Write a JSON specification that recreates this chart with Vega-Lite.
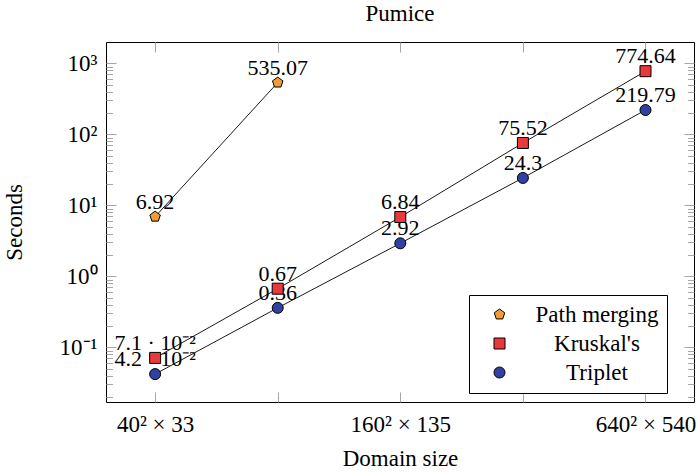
{
  "$schema": "https://vega.github.io/schema/vega-lite/v6.json",
  "width": 588,
  "height": 360,
  "autosize": {"type": "none"},
  "padding": {"left": 106, "top": 42, "right": 5, "bottom": 70},
  "config": {
    "font": "Liberation Serif",
    "view": {"stroke": "#000000", "strokeWidth": 1},
    "axis": {"domain": false, "grid": false, "labelFont": "Liberation Serif", "titleFont": "Liberation Serif", "labelFontSize": 23, "titleFontSize": 23, "titleFontWeight": "normal", "labelColor": "#000", "titleColor": "#000", "tickColor": "#a6a6a6", "tickWidth": 1},
    "legend": {"labelFont": "Liberation Serif"},
    "title": {"font": "Liberation Serif"}
  },
  "title": {"text": "Pumice", "fontSize": 23, "fontWeight": "normal", "font": "Liberation Serif", "baseline": "alphabetic", "offset": -2, "color": "#000"},
  "data": {"values": [
    {"series": "Path merging", "side": 40, "seconds": 6.92, "label": "6.92"},
    {"series": "Path merging", "side": 80, "seconds": 535.07, "label": "535.07"},
    {"series": "Kruskal's", "side": 40, "seconds": 0.071, "label": "7.1 · 10⁻²"},
    {"series": "Kruskal's", "side": 80, "seconds": 0.67, "label": "0.67"},
    {"series": "Kruskal's", "side": 160, "seconds": 6.84, "label": "6.84"},
    {"series": "Kruskal's", "side": 320, "seconds": 75.52, "label": "75.52"},
    {"series": "Kruskal's", "side": 640, "seconds": 774.64, "label": "774.64"},
    {"series": "Triplet", "side": 40, "seconds": 0.042, "label": "4.2 · 10⁻²"},
    {"series": "Triplet", "side": 80, "seconds": 0.36, "label": "0.36"},
    {"series": "Triplet", "side": 160, "seconds": 2.92, "label": "2.92"},
    {"series": "Triplet", "side": 320, "seconds": 24.3, "label": "24.3"},
    {"series": "Triplet", "side": 640, "seconds": 219.79, "label": "219.79"}
  ]},
  "layer": [
    {
      "mark": {"type": "text", "font": "Liberation Serif", "fontSize": 22, "baseline": "alphabetic", "align": "center", "dy": -8, "color": "#000"},
      "encoding": {
        "x": {"field": "side", "type": "quantitative", "scale": {"type": "log", "domain": [30.3, 842], "nice": false}, "axis": null},
        "y": {"field": "seconds", "type": "quantitative", "scale": {"type": "log", "domain": [0.017, 1995], "nice": false}, "axis": null},
        "text": {"field": "label"}
      }
    },
    {
      "mark": {"type": "line", "color": "#000", "strokeWidth": 0.9},
      "encoding": {
        "x": {"field": "side", "type": "quantitative", "scale": {"type": "log", "domain": [30.3, 842], "nice": false},
          "axis": {"orient": "bottom", "values": [40, 80, 160, 320, 640], "tickSize": -10, "labelPadding": 21,
            "labelExpr": "datum.value == 40 ? '40² × 33' : datum.value == 160 ? '160² × 135' : datum.value == 640 ? '640² × 540' : ''",
            "title": "Domain size", "titlePadding": 11}},
        "y": {"field": "seconds", "type": "quantitative", "scale": {"type": "log", "domain": [0.017, 1995], "nice": false},
          "axis": {"orient": "left", "values": [0.02,0.03,0.04,0.05,0.06,0.07,0.08,0.09,0.1,0.2,0.3,0.4,0.5,0.6,0.7,0.8,0.9,1,2,3,4,5,6,7,8,9,10,20,30,40,50,60,70,80,90,100,200,300,400,500,600,700,800,900,1000],
            "tickSize": {"condition": {"test": "indexof([0.1,1,10,100,1000], datum.value) >= 0", "value": -10}, "value": -6.5},
            "labelPadding": 19,
            "labelExpr": "datum.value == 1000 ? '10³' : datum.value == 100 ? '10²' : datum.value == 10 ? '10¹' : datum.value == 1 ? '10⁰' : datum.value == 0.1 ? '10⁻¹' : ''",
            "title": "Seconds", "titlePadding": 33}},
        "detail": {"field": "series"}
      }
    },
    {
      "mark": {"type": "point", "filled": true, "size": 121, "stroke": "#000", "strokeWidth": 1, "opacity": 1},
      "encoding": {
        "x": {"field": "side", "type": "quantitative", "scale": {"type": "log", "domain": [30.3, 842], "nice": false},
          "axis": {"orient": "top", "values": [40, 80, 160, 320, 640], "tickSize": -10, "labels": false, "title": null}},
        "y": {"field": "seconds", "type": "quantitative", "scale": {"type": "log", "domain": [0.017, 1995], "nice": false},
          "axis": {"orient": "right", "values": [0.02,0.03,0.04,0.05,0.06,0.07,0.08,0.09,0.1,0.2,0.3,0.4,0.5,0.6,0.7,0.8,0.9,1,2,3,4,5,6,7,8,9,10,20,30,40,50,60,70,80,90,100,200,300,400,500,600,700,800,900,1000],
            "tickSize": {"condition": {"test": "indexof([0.1,1,10,100,1000], datum.value) >= 0", "value": -10}, "value": -6.5},
            "labels": false, "title": null}},
        "color": {"field": "series", "type": "nominal",
          "scale": {"domain": ["Path merging", "Kruskal's", "Triplet"], "range": ["#F39B36", "#E8393C", "#3140A3"]},
          "legend": {"orient": "none", "legendX": 363, "legendY": 253, "title": null, "strokeColor": "#000", "fillColor": "#fff", "padding": 8,
            "labelFont": "Liberation Serif", "labelFontSize": 23, "labelColor": "#000", "symbolSize": 121, "symbolStrokeColor": "#000", "symbolStrokeWidth": 1, "symbolOpacity": 1,
            "rowPadding": 5, "labelAlign": "center", "labelOffset": 86, "symbolOffset": 11, "cornerRadius": 0}},
        "shape": {"field": "series", "type": "nominal",
          "scale": {"domain": ["Path merging", "Kruskal's", "Triplet"], "range": ["M0,-1L0.951,-0.309L0.588,0.809L-0.588,0.809L-0.951,-0.309Z", "square", "circle"]},
          "legend": null}
      }
    }
  ],
  "resolve": {"axis": {"x": "independent", "y": "independent"}}
}
